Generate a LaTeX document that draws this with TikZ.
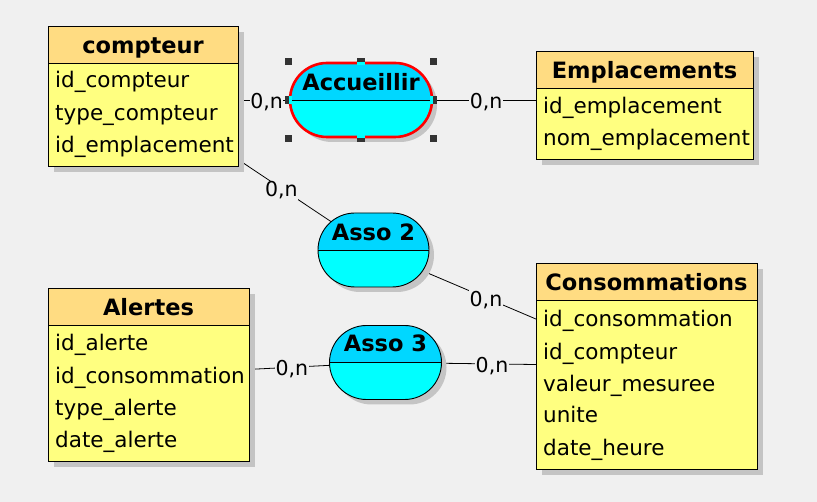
\documentclass[tikz,border=0pt]{standalone}
\usepackage{fontspec}
\setmainfont{DejaVu Sans}
\usetikzlibrary{shadows}
\definecolor{bgc}{HTML}{F0F0F0}
\definecolor{enthead}{HTML}{FFDC82}
\definecolor{entbody}{HTML}{FFFF80}
\definecolor{ashead}{HTML}{00D7FF}
\definecolor{asbody}{HTML}{00FFFF}
\definecolor{shadowc}{HTML}{C4C4C4}
\definecolor{handle}{HTML}{333333}
\pgfdeclarelayer{back}
\pgfdeclarelayer{links}
\pgfsetlayers{back,links,main}
\tikzset{
  entity/.style={rectangle, draw=black, line width=0.9pt, fill=entbody, inner sep=0pt,
    drop shadow={shadow xshift=6pt, shadow yshift=-6pt, fill=shadowc, opacity=1},
    path picture={
      \fill[enthead, sharp corners] (path picture bounding box.north west) rectangle ([yshift=-37pt]path picture bounding box.north east);
      \draw[draw=black, line width=0.9pt, sharp corners] ([yshift=-37pt]path picture bounding box.north west) -- ([yshift=-37pt]path picture bounding box.north east);
    }},
  assoc/.style={rectangle, rounded corners=37pt, draw=black, line width=0.9pt, fill=asbody, inner sep=0pt,
    minimum height=74pt,
    drop shadow={shadow xshift=5pt, shadow yshift=-5pt, fill=shadowc, opacity=1},
    path picture={
      \fill[ashead, sharp corners] (path picture bounding box.north west) rectangle (path picture bounding box.east);
      \draw[draw=black, line width=0.9pt, sharp corners] (path picture bounding box.west) -- (path picture bounding box.east);
    }},
  etitle/.style={anchor=base, inner sep=0pt, font=\bfseries\fontsize{22.5}{26}\selectfont},
  field/.style={anchor=base west, inner sep=0pt, font=\fontsize{21.5}{25}\selectfont},
  card/.style={fill=bgc, inner sep=0.5pt, yshift=-2pt, font=\fontsize{20.5}{24}\selectfont},
  link/.style={draw=black, line width=0.8pt},
  hsq/.style={fill=handle, draw=none},
}
\begin{document}
\begin{tikzpicture}[x=1pt,y=-1pt]
\begin{pgfonlayer}{back}
\fill[bgc] (0,0) rectangle (817,502);
\end{pgfonlayer}
\useasboundingbox (0,0) rectangle (817,502);

% entities
\node[entity, minimum width=190pt, minimum height=140pt] (compteur) at (143,96) {};
\node[etitle] (compteurT) at (143,53.5) {compteur};
\node[field] (c1) at (55,88) {id\_compteur};
\node[field] (c2) at (55,120.5) {type\_compteur};
\node[field] (c3) at (55,153) {id\_emplacement};

\node[entity, minimum width=217pt, minimum height=108pt] (empl) at (644.5,105) {};
\node[etitle] (emplT) at (644.5,78.5) {Emplacements};
\node[field] (e1) at (543,114) {id\_emplacement};
\node[field] (e2) at (543,146) {nom\_emplacement};

\node[entity, minimum width=201pt, minimum height=173pt] (alertes) at (148.5,374.5) {};
\node[etitle] (alertesT) at (148.5,316) {Alertes};
\node[field] (a1) at (55,351) {id\_alerte};
\node[field] (a2) at (55,384) {id\_consommation};
\node[field] (a3) at (55,416) {type\_alerte};
\node[field] (a4) at (55,448) {date\_alerte};

\node[entity, minimum width=221pt, minimum height=206pt] (conso) at (646.5,366) {};
\node[etitle] (consoT) at (646.5,291) {Consommations};
\node[field] (s1) at (543,326.7) {id\_consommation};
\node[field] (s2) at (543,359.3) {id\_compteur};
\node[field] (s3) at (543,391.7) {valeur\_mesuree};
\node[field] (s4) at (543,423) {unite};
\node[field] (s5) at (543,456) {date\_heure};

% associations
\node[assoc, minimum width=142pt, draw=red, line width=2.6pt] (acc) at (361,100) {};
\node[etitle] (accT) at (361,91) {Accueillir};
\node[assoc, minimum width=111pt] (asso2) at (373.5,250) {};
\node[etitle] (asso2T) at (373.5,241) {Asso 2};
\node[assoc, minimum width=112pt] (asso3) at (385.5,362.5) {};
\node[etitle] (asso3T) at (385.5,352) {Asso 3};

% selection handles
\foreach \a in {north west, north east, south west, south east}{
  \fill[hsq] ([shift={(-3.6,-3.6)}]acc.\a) rectangle +(7.2,7.2);
}
\fill[hsq] ([shift={(-3.6,-3.6)}]acc.north) rectangle +(7.2,7.2);
\fill[asbody] ([shift={(-3.6,0)}]acc.north) rectangle +(7.2,3.6);
\fill[hsq] ([shift={(-3.6,-3.6)}]acc.south) rectangle +(7.2,7.2);
\fill[asbody] ([shift={(-3.6,-3.6)}]acc.south) rectangle +(7.2,3.6);
\fill[hsq] ([shift={(-3.6,-3.6)}]acc.west) rectangle +(7.2,7.2);
\fill[asbody] ([shift={(0,-3.6)}]acc.west) rectangle +(3.6,7.2);
\fill[hsq] ([shift={(-3.6,-3.6)}]acc.east) rectangle +(7.2,7.2);
\fill[asbody] ([shift={(-3.6,-3.6)}]acc.east) rectangle +(3.6,7.2);

% connectors
\begin{pgfonlayer}{links}
\path[link] (compteur.center |- acc.center) -- node[card, pos=0.567] (l1) {0,n} (acc.center);
\path[link] (acc.center) -- node[card, pos=0.441] (l2) {0,n} (empl.center |- acc.center);
\path[link] (compteur.center) -- node[card, pos=0.6] (l3) {0,n} (asso2.center);
\path[link] (asso2.center) -- node[card, pos=0.412] (l4) {0,n} (conso.center);
\path[link] (alertes.center) -- node[card, pos=0.605] (l5) {0,n} (asso3.center);
\path[link] (asso3.center) -- node[card, pos=0.408] (l6) {0,n} (conso.center);
\end{pgfonlayer}
\end{tikzpicture}
\end{document}
